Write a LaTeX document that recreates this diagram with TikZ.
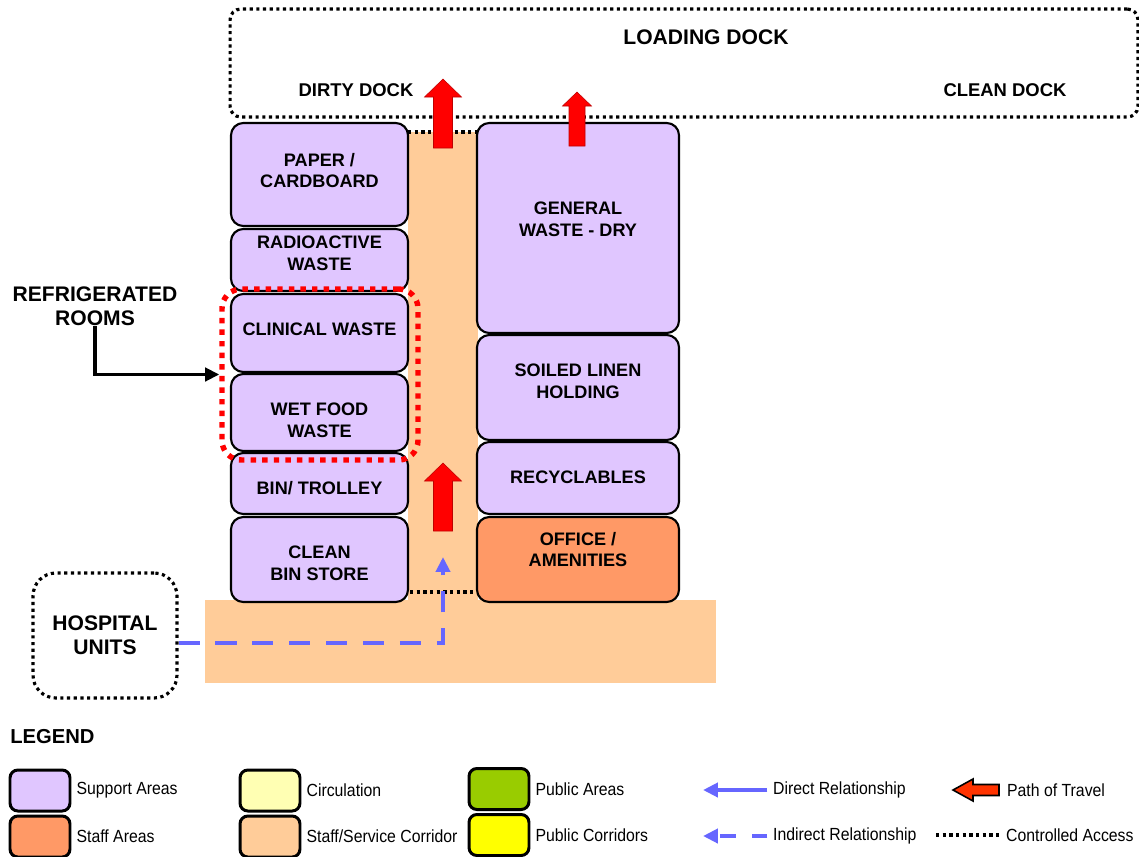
\documentclass[tikz,border=0pt]{standalone}
\usepackage{fontspec}
\setmainfont{Liberation Sans}
\newfontfamily\legendfont[FakeStretch=0.9]{Liberation Sans}
\usetikzlibrary{arrows.meta,positioning}
\definecolor{support}{RGB}{224,198,255}
\definecolor{staff}{RGB}{255,153,102}
\definecolor{corridor}{RGB}{255,204,153}
\definecolor{circ}{RGB}{255,255,179}
\definecolor{pubarea}{RGB}{153,204,0}
\definecolor{pubcorr}{RGB}{255,255,0}
\definecolor{relblue}{RGB}{102,102,255}
\definecolor{travelred}{RGB}{255,51,0}

% x, tail y, tip y, half shaft, half head, head length
\newcommand{\travelup}[6]{%
  \filldraw[travel] (#1-#4,#2) -- (#1-#4,#3+#6) -- (#1-#5,#3+#6) -- (#1,#3)
    -- (#1+#5,#3+#6) -- (#1+#4,#3+#6) -- (#1+#4,#2) -- cycle;}

\begin{document}
\begin{tikzpicture}[x=0.02cm, y=-0.02cm,
        room/.style={draw, line width=1.2pt, rounded corners=7pt, fill=support},
        lbl/.style={font=\fontsize{10.3}{12.3}\selectfont\bfseries, align=center, inner sep=0pt},
        docktitle/.style={font=\fontsize{12}{13.5}\selectfont\bfseries, align=center, inner sep=0pt},
        docklbl/.style={font=\fontsize{10.5}{12}\selectfont\bfseries, inner sep=0pt},
        ctrl/.style={draw, line width=1.8pt, dash pattern=on 1.8pt off 2pt},
        fridge/.style={draw=red, line width=3.1pt, dash pattern=on 3.1pt off 3.5pt, rounded corners=11pt},
        travel/.style={fill=red, draw=red!75!black, line width=0.3pt},
        travelkey/.style={fill=travelred, draw=black, line width=0.9pt},
        pointer/.style={draw, line width=2pt, -{Triangle[length=8pt,width=7.5pt]}},
        direct/.style={draw=relblue, line width=2.3pt, -{Triangle[length=8.5pt,width=8pt]}},
        indirect/.style={direct, dash pattern=on 12pt off 9pt},
        indirectkey/.style={direct, dash pattern=on 9pt off 9pt},
        swatch/.style={draw, line width=1.7pt, rounded corners=4.5pt,
            minimum width=1.2cm, minimum height=0.82cm},
        keytext/.style={font=\legendfont\fontsize{10}{11}\selectfont, inner sep=1pt}]
    \useasboundingbox (0,0) rectangle (1139,856);

    % staff / service corridor
    \fill[corridor] (205,600) rectangle (716,683);
    \fill[corridor] (408,132) rectangle (478,600);
    \draw[ctrl] (408,132) -- (478,132);
    \draw[ctrl] (410,592) -- (477,592);

    % loading dock
    \node[ctrl, rounded corners=6pt, minimum width=18.16cm, minimum height=2.16cm] (dock) at (684,63) {};
    \node[docktitle] (loading) at (706,37) {LOADING DOCK};
    \node[docklbl] (dirty) at (356,90) {DIRTY DOCK};
    \node[docklbl] (clean) at (1005,90) {CLEAN DOCK};

    % left stack
    \draw[room] (231,123) rectangle (408,226);
    \node[lbl] (paper) at (319.5,170.5) {PAPER /\\CARDBOARD};
    \draw[room] (231,229) rectangle (408,291);
    \node[lbl] (radio) at (319.5,253.5) {RADIOACTIVE\\WASTE};
    \draw[room] (231,294) rectangle (408,372);
    \node[lbl] (clinical) at (319.5,329) {CLINICAL WASTE};
    \draw[room] (231,374) rectangle (408,451);
    \node[lbl] (wetfood) at (319.5,420) {WET FOOD\\WASTE};
    \draw[room] (231,453) rectangle (408,514);
    \node[lbl] (bin) at (319.5,488) {BIN/ TROLLEY};
    \draw[room] (231,517) rectangle (408,602);
    \node[lbl] (cleanbin) at (319.5,563.5) {CLEAN\\BIN STORE};

    % right stack
    \draw[room] (477,123) rectangle (679,333);
    \node[lbl] (general) at (578,219) {GENERAL\\WASTE - DRY};
    \draw[room] (477,335) rectangle (679,440);
    \node[lbl] (linen) at (578,381.5) {SOILED LINEN\\HOLDING};
    \draw[room] (477,442) rectangle (679,514);
    \node[lbl] (recyc) at (578,477) {RECYCLABLES};
    \draw[room, fill=staff] (477,517) rectangle (679,602);
    \node[lbl] (office) at (578,549.5) {OFFICE /\\AMENITIES};

    % path of travel
    \travelup{443}{148}{79}{9.5}{18.5}{18}
    \travelup{577}{146}{92}{8}{14.5}{14}
    \travelup{443}{531}{463}{9.5}{18.5}{18}

    % refrigerated rooms
    \node[fridge, minimum width=3.92cm, minimum height=3.42cm] (fridge) at (320,374.5) {};
    \node[docktitle] (refr) at (95,306) {REFRIGERATED\\ROOMS};
    \draw[pointer] (refr.south) |- (fridge.west);

    % hospital units
    \node[ctrl, rounded corners=13pt, minimum width=2.88cm, minimum height=2.5cm,
        font=\fontsize{12}{13.7}\selectfont\bfseries, align=center] (hosp) at (105,635.5) {HOSPITAL\\UNITS};
    \coordinate (bend) at (443,643);
    \coordinate (entry) at (443,557);
    \draw[indirect] (hosp.east |- bend) -- (bend) -- (entry);

    % legend
    \node[docktitle, font=\fontsize{11.5}{13}\selectfont\bfseries, anchor=west] (legend) at (10,737) {LEGEND};
    \node[swatch, fill=support] (sw1) at (40,790.5) {};
    \node[keytext, right=0.06cm of sw1] (k1) {Support Areas};
    \node[swatch, fill=staff] (sw2) at (40,836.5) {};
    \node[keytext, right=0.06cm of sw2] (k2) {Staff Areas};
    \node[swatch, fill=circ] (sw3) at (270,790.5) {};
    \node[keytext, right=0.06cm of sw3] (k3) {Circulation};
    \node[swatch, fill=corridor] (sw4) at (270,836.5) {};
    \node[keytext, right=0.06cm of sw4] (k4) {Staff/Service Corridor};
    \node[swatch, fill=pubarea] (sw5) at (499,789) {};
    \node[keytext, right=0.06cm of sw5] (k5) {Public Areas};
    \node[swatch, fill=pubcorr] (sw6) at (499,835) {};
    \node[keytext, right=0.06cm of sw6] (k6) {Public Corridors};

    \node[keytext, anchor=west] (drel) at (771,790) {Direct Relationship};
    \coordinate (dtip) at (703,790);
    \draw[direct, shorten <=2pt] (drel.west) -- (dtip);
    \node[keytext, anchor=west] (irel) at (771,836) {Indirect Relationship};
    \coordinate (itip) at (703,836);
    \draw[indirectkey, shorten <=2pt] (irel.west) -- (itip);

    \node[keytext, anchor=west] (ptravel) at (1005,790) {Path of Travel};
    \filldraw[travelkey] (999,784.5) -- (973,784.5) -- (973,779) -- (953,790)
        -- (973,801) -- (973,795.5) -- (999,795.5) -- cycle;
    \node[keytext, anchor=west] (cacc) at (1004,835) {Controlled Access};
    \coordinate (cstart) at (936,835);
    \draw[ctrl, shorten >=3pt] (cstart) -- (cacc.west);
\end{tikzpicture}
\end{document}
